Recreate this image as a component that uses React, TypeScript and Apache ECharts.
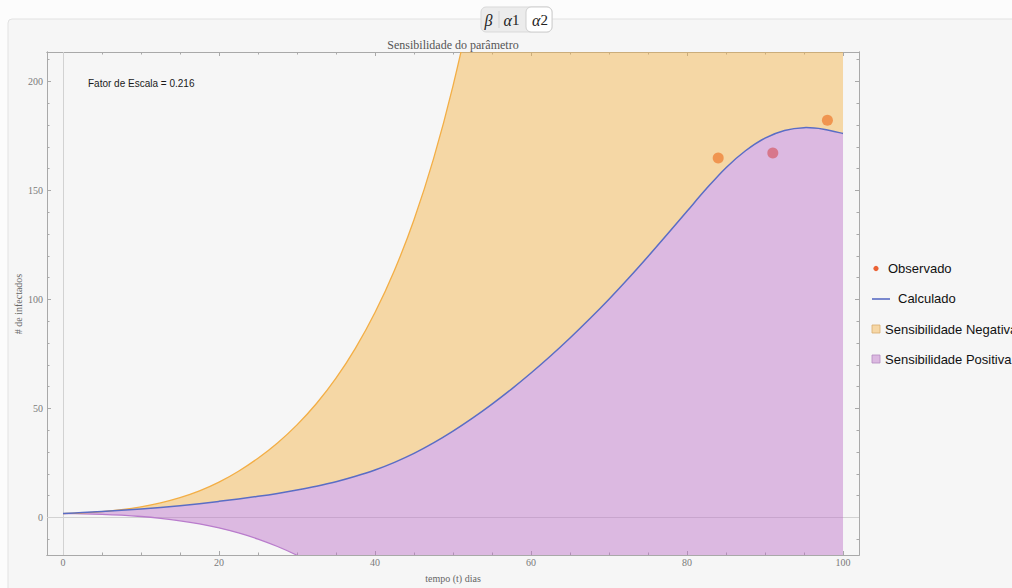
import React, { useEffect, useRef } from 'react';
import * as echarts from 'echarts';

// Time grid (days) shared by every curve
const days = [
  0, 2.5, 5, 7.5, 10, 12.5, 15, 17.5, 20, 22.5, 25, 27.5, 30, 32.5, 35, 37.5, 40,
  42.5, 45, 47.5, 50, 52.5, 55, 57.5, 60, 62.5, 65, 67.5, 70, 72.5, 75, 77.5, 80,
  82.5, 85, 87.5, 90, 92.5, 95, 97.5, 100,
];

// Model output (Calculado)
const calculado = [
  1.8, 2.25, 2.75, 3.3, 3.9, 4.6, 5.4, 6.35, 7.4, 8.5, 9.7, 11.05, 12.6, 14.35, 16.4, 18.9, 21.8,
  25.3, 29.4, 34.2, 39.6, 45.55, 52.0, 58.9, 66.25, 74.05, 82.3, 91.0, 100.1, 109.7, 119.7, 130.0, 140.45,
  150.85, 160.45, 168.2, 174.0, 177.5, 178.8, 178.1, 176.1,
];

// Upper bound of the sensitivity band (parameter scaled down)
const limiteSuperior = [
  1.8, 2.1, 2.7, 3.6, 4.9, 6.7, 9.1, 12.2, 16.2, 21.2, 27.2, 34.2, 42.5, 52.3, 63.9, 77.7, 94.0,
  113.4, 136.6, 164.5, 198.0, 238.0, 285.0, 337.0, 395.0, 458.0, 525.0, 595.0, 665.0, 735.0, 800.0, 862.0, 920.0,
  972.0, 1018.0, 1058.0, 1092.0, 1120.0, 1142.0, 1158.0, 1168.0,
];

// Lower bound of the sensitivity band (parameter scaled up)
const limiteInferior = [
  1.8, 1.7, 1.45, 1.05, 0.45, -0.4, -1.5, -2.95, -4.8, -7.1, -9.9, -13.3, -17.3, -21.9, -27.2, -33.3, -40.2,
  -47.9, -56.4, -65.7, -75.8, -86.7, -98.4, -110.9, -124.0, -138.0, -152.5, -167.5, -183.0, -199.0, -215.0, -231.0, -247.0,
  -263.0, -279.0, -294.0, -309.0, -323.0, -337.0, -350.0, -362.0,
];

// Observed cases
const observadoDias = [84, 91, 98];
const observadoCasos = [164.9, 167.2, 182.2];

// Axis ticks
const xMajorTicks = [0, 20, 40, 60, 80, 100];
const xMinorTicks = [0, 5, 10, 15, 20, 25, 30, 35, 40, 45, 50, 55, 60, 65, 70, 75, 80, 85, 90, 95, 100];
const yMajorTicks = [0, 50, 100, 150, 200];
const yMinorTicks = [-10, 0, 10, 20, 30, 40, 50, 60, 70, 80, 90, 100, 110, 120, 130, 140, 150, 160, 170, 180, 190, 200, 210];

const fatorEscala = 0.216;
const parametros = ['β', 'α1', 'α2'];

const X_MIN = -2.05;
const X_MAX = 102.05;
const Y_MIN = -17.2;
const Y_MAX = 213.5;

const FRAME = '#a9a9a9';
const SERIF = '"Liberation Serif", "DejaVu Serif", serif';
const SANS = '"Liberation Sans", Arial, sans-serif';

const COL_OBS = '#eb6235';
const COL_BLUE = '#5a6dc5';
const COL_ORANGE_LINE = '#f3ae45';
const COL_ORANGE_FILL = '#f4b142';
const COL_PURPLE_LINE = '#b97ccc';
const COL_PURPLE_FILL = '#bc6ec7';
const FILL_OPACITY = 0.45;

type Pt = number[];

// Catmull-Rom segments (as cubic Béziers) through a list of pixel points
function curveSegments(pts: Pt[]): string {
  let d = '';
  for (let i = 0; i < pts.length - 1; i++) {
    const p0 = pts[i - 1] || pts[i];
    const p1 = pts[i];
    const p2 = pts[i + 1];
    const p3 = pts[i + 2] || p2;
    const c1x = p1[0] + (p2[0] - p0[0]) / 6;
    const c1y = p1[1] + (p2[1] - p0[1]) / 6;
    const c2x = p2[0] - (p3[0] - p1[0]) / 6;
    const c2y = p2[1] - (p3[1] - p1[1]) / 6;
    d += ` C${c1x},${c1y} ${c2x},${c2y} ${p2[0]},${p2[1]}`;
  }
  return d;
}

function xAxisDef(position: 'top' | 'bottom', ticks: number[], len: number, labels: boolean) {
  return {
    type: 'value',
    position,
    min: X_MIN,
    max: X_MAX,
    splitLine: { show: false },
    axisLine: { show: true, onZero: false, lineStyle: { color: FRAME, width: 1 } },
    axisTick: { show: true, inside: true, length: len, customValues: ticks, lineStyle: { color: FRAME } },
    axisLabel: labels
      ? { show: true, customValues: xMajorTicks, color: '#7a7a7a', fontFamily: SERIF, fontSize: 10, margin: 2 }
      : { show: false },
  };
}

function yAxisDef(position: 'left' | 'right', ticks: number[], len: number, labels: boolean) {
  return {
    type: 'value',
    position,
    min: Y_MIN,
    max: Y_MAX,
    splitLine: { show: false },
    axisLine: { show: true, onZero: false, lineStyle: { color: FRAME, width: 1 } },
    axisTick: { show: true, inside: true, length: len, customValues: ticks, lineStyle: { color: FRAME } },
    axisLabel: labels
      ? { show: true, customValues: yMajorTicks, color: '#7a7a7a', fontFamily: SERIF, fontSize: 10, margin: 4 }
      : { show: false },
  };
}

// Filled band between two curves sampled on the shared day grid
function bandSeries(name: string, top: number[], bottom: number[], fill: string) {
  return {
    name,
    type: 'custom',
    z: 2,
    clip: true,
    silent: true,
    data: [0],
    renderItem: (_params: any, api: any) => {
      const upper: Pt[] = days.map((d, i) => api.coord([d, top[i]]));
      const lower: Pt[] = days.map((d, i) => api.coord([d, bottom[i]])).reverse();
      const pathData =
        `M${upper[0][0]},${upper[0][1]}` +
        curveSegments(upper) +
        ` L${lower[0][0]},${lower[0][1]}` +
        curveSegments(lower) +
        ' Z';
      return {
        type: 'path',
        shape: { pathData },
        style: { fill, opacity: FILL_OPACITY, stroke: 'none' },
      };
    },
  };
}

// Smooth curve drawn through the same interpolation as the bands
function curveSeries(name: string, ys: number[], color: string, width: number, z: number) {
  return {
    name,
    type: 'custom',
    z,
    clip: true,
    silent: true,
    data: [0],
    renderItem: (_params: any, api: any) => {
      const pts: Pt[] = days.map((d, i) => api.coord([d, ys[i]]));
      const pathData = `M${pts[0][0]},${pts[0][1]}` + curveSegments(pts);
      return {
        type: 'path',
        shape: { pathData },
        style: { fill: 'none', stroke: color, lineWidth: width },
      };
    },
  };
}

export default function App() {
  const ref = useRef<HTMLDivElement>(null);

  useEffect(() => {
    if (!ref.current) return;
    const chart = echarts.init(ref.current, null, { renderer: 'svg' });

    // Segmented parameter selector
    const selX = [488.5, 511.5, 540];
    const selector: any[] = [
      {
        type: 'rect',
        shape: { x: 481, y: 7, width: 71, height: 25, r: 5 },
        style: { fill: '#ececec', stroke: '#d9d9d9', lineWidth: 1 },
        z: 5,
      },
      {
        type: 'rect',
        shape: { x: 526, y: 7, width: 26, height: 25, r: 5 },
        style: { fill: '#ffffff', stroke: '#cfcfcf', lineWidth: 1 },
        z: 6,
      },
      {
        type: 'line',
        shape: { x1: 499, y1: 11, x2: 499, y2: 28 },
        style: { stroke: '#d2d2d2', lineWidth: 1 },
        z: 6,
      },
      ...parametros.map((p, i) => ({
        type: 'text',
        x: selX[i],
        y: 20,
        z: 7,
        style: {
          text: p.length > 1 ? `{g|${p[0]}}{n|${p.slice(1)}}` : `{g|${p}}`,
          align: 'center',
          verticalAlign: 'middle',
          fill: '#222',
          rich: {
            g: { fontFamily: SERIF, fontStyle: 'italic', fontSize: 16, fill: '#222' },
            n: { fontFamily: SERIF, fontSize: 15, fill: '#222' },
          },
        },
      })),
    ];

    const legend: any[] = [
      { type: 'circle', shape: { cx: 876, cy: 268.5, r: 2.6 }, style: { fill: COL_OBS }, z: 10 },
      {
        type: 'text', x: 888, y: 268, z: 10,
        style: { text: 'Observado', fontFamily: SANS, fontSize: 13, fill: '#111', verticalAlign: 'middle' },
      },
      { type: 'line', shape: { x1: 872, y1: 299, x2: 890, y2: 299 }, style: { stroke: COL_BLUE, lineWidth: 1.6 }, z: 10 },
      {
        type: 'text', x: 898, y: 298.5, z: 10,
        style: { text: 'Calculado', fontFamily: SANS, fontSize: 13, fill: '#111', verticalAlign: 'middle' },
      },
      { type: 'rect', shape: { x: 872, y: 325, width: 8, height: 8 }, style: { fill: '#f6d7a6', stroke: '#d9ac70', lineWidth: 0.8 }, z: 10 },
      {
        type: 'text', x: 885, y: 329, z: 10,
        style: { text: 'Sensibilidade Negativa', fontFamily: SANS, fontSize: 13, fill: '#111', verticalAlign: 'middle' },
      },
      { type: 'rect', shape: { x: 872, y: 355, width: 8, height: 8 }, style: { fill: '#dcb9e1', stroke: '#b48cc0', lineWidth: 0.8 }, z: 10 },
      {
        type: 'text', x: 885, y: 359.5, z: 10,
        style: { text: 'Sensibilidade Positiva', fontFamily: SANS, fontSize: 13, fill: '#111', verticalAlign: 'middle' },
      },
    ];

    const option: any = {
      animation: false,
      backgroundColor: '#fcfcfc',
      grid: { left: 47, top: 52, width: 812, height: 503, containLabel: false },
      xAxis: [
        xAxisDef('bottom', xMajorTicks, 4, true),
        xAxisDef('bottom', xMinorTicks, 2.5, false),
        xAxisDef('top', xMajorTicks, 4, false),
        xAxisDef('top', xMinorTicks, 2.5, false),
      ],
      yAxis: [
        yAxisDef('left', yMajorTicks, 4, true),
        yAxisDef('left', yMinorTicks, 2.5, false),
        yAxisDef('right', yMajorTicks, 4, false),
        yAxisDef('right', yMinorTicks, 2.5, false),
      ],
      graphic: {
        elements: [
          {
            type: 'rect',
            shape: { x: 8, y: 19, width: 1020, height: 580, r: 4 },
            style: { fill: '#f6f6f6', stroke: '#e2e2e2', lineWidth: 1 },
            z: -1,
          },
          ...selector,
          {
            type: 'text', x: 453, y: 45, z: 5,
            style: { text: 'Sensibilidade do parâmetro', fontFamily: SERIF, fontSize: 12, fill: '#555', align: 'center', verticalAlign: 'middle' },
          },
          {
            type: 'text', x: 88, y: 83, z: 5,
            style: { text: `Fator de Escala = ${fatorEscala}`, fontFamily: SANS, fontSize: 10, fill: '#1a1a1a', verticalAlign: 'middle' },
          },
          {
            type: 'text', x: 453, y: 578, z: 5,
            style: { text: 'tempo (t) dias', fontFamily: SERIF, fontSize: 10, fill: '#666', align: 'center', verticalAlign: 'middle' },
          },
          {
            type: 'text', x: 18, y: 304, rotation: Math.PI / 2, z: 5,
            style: { text: '# de infectados', fontFamily: SERIF, fontSize: 10, fill: '#666', align: 'center', verticalAlign: 'middle' },
          },
          ...legend,
        ],
      },
      series: [
        {
          name: 'Observado',
          type: 'scatter',
          z: 1,
          data: observadoDias.map((d, i) => [d, observadoCasos[i]]),
          symbolSize: 11,
          itemStyle: { color: COL_OBS },
          markLine: {
            z: 1,
            silent: true,
            symbol: ['none', 'none'],
            label: { show: false },
            lineStyle: { color: '#d2d2d2', width: 1, type: 'solid' },
            data: [{ yAxis: 0 }, { xAxis: 0 }],
          },
        },
        bandSeries('Sensibilidade Positiva', calculado, limiteInferior, COL_PURPLE_FILL),
        bandSeries('Sensibilidade Negativa', limiteSuperior, calculado, COL_ORANGE_FILL),
        curveSeries('limiteInferior', limiteInferior, COL_PURPLE_LINE, 1.3, 3),
        curveSeries('limiteSuperior', limiteSuperior, COL_ORANGE_LINE, 1.3, 3),
        curveSeries('Calculado', calculado, COL_BLUE, 1.5, 4),
      ],
    };

    chart.setOption(option);
    return () => chart.dispose();
  }, []);

  return (
    <div
      ref={ref}
      style={{ position: 'fixed', left: 0, top: 0, width: 1012, height: 588 }}
    />
  );
}
